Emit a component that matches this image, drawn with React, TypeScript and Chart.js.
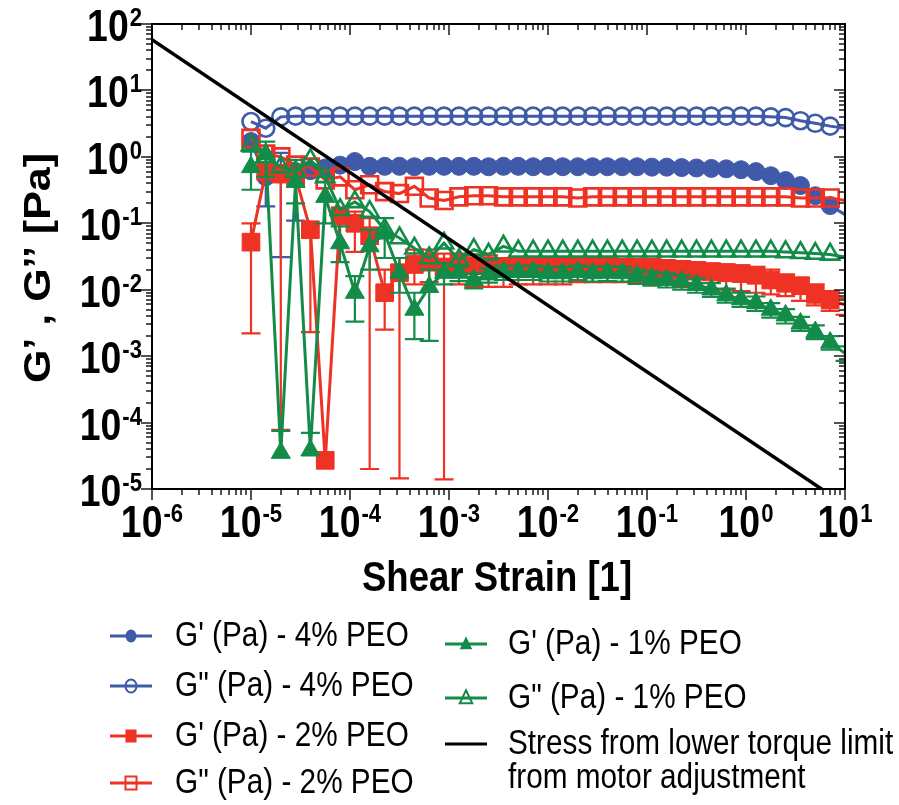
import React, { useEffect, useRef } from 'react';
import { Chart, registerables } from 'chart.js';

Chart.register(...registerables);

// ---------- data ----------
const strain = [
  1.0e-5, 1.41e-5, 2.0e-5, 2.82e-5, 3.98e-5, 5.62e-5, 7.94e-5,
  1.12e-4, 1.58e-4, 2.24e-4, 3.16e-4, 4.47e-4, 6.31e-4, 8.91e-4,
  1.26e-3, 1.78e-3, 2.51e-3, 3.55e-3, 5.01e-3, 7.08e-3,
  1.0e-2, 1.41e-2, 2.0e-2, 2.82e-2, 3.98e-2, 5.62e-2, 7.94e-2,
  0.112, 0.158, 0.224, 0.316, 0.447, 0.631, 0.891,
  1.26, 1.78, 2.51, 3.55, 5.01, 7.08, 10.0,
];

const gPrime4 = [
  1.7, 0.5, 0.55, 0.6, 0.62, 0.68, 0.75,
  0.85, 0.72, 0.72, 0.72, 0.71, 0.72, 0.72,
  0.72, 0.72, 0.71, 0.72, 0.72, 0.71,
  0.72, 0.71, 0.71, 0.71, 0.71, 0.71, 0.71,
  0.70, 0.70, 0.69, 0.68, 0.67, 0.66, 0.64,
  0.60, 0.52, 0.44, 0.37, 0.26, 0.185, 0.135,
];
const gPrime4Low = [
  null, 0.18, 0.031, 0.11, null, null, null,
  null, null, null, null, null, null, null,
  null, null, null, null, null, null,
  null, null, null, null, null, null, null,
  null, null, null, null, null, null, null,
  null, null, null, null, null, null, null,
];
const gPrime4High = [
  null, null, 1.15, null, null, null, null,
  null, null, null, null, null, null, null,
  null, null, null, null, null, null,
  null, null, null, null, null, null, null,
  null, null, null, null, null, null, null,
  null, null, null, null, null, null, null,
];

const gDouble4 = [
  3.4, 2.7, 4.0, 4.1, 4.1, 4.1, 4.1,
  4.1, 4.1, 4.1, 4.1, 4.1, 4.1, 4.1,
  4.1, 4.1, 4.1, 4.1, 4.1, 4.1,
  4.1, 4.1, 4.1, 4.1, 4.1, 4.1, 4.1,
  4.1, 4.1, 4.1, 4.1, 4.1, 4.1, 4.1,
  4.1, 4.0, 3.9, 3.5, 3.2, 2.9, 2.7,
];

const gPrime2 = [
  0.052, 0.6, 0.55, 0.5, 0.08, 2.7e-5, 0.13,
  0.10, 0.065, 0.009, 0.018, 0.024, 0.026, 0.022,
  0.025, 0.023, 0.023, 0.022, 0.022, 0.022,
  0.022, 0.022, 0.022, 0.022, 0.022, 0.021, 0.021,
  0.021, 0.021, 0.020, 0.019, 0.0185, 0.018, 0.0175,
  0.0165, 0.014, 0.0125, 0.0115, 0.0085, 0.0070, 0.0059,
];
const gPrime2Low = [
  0.0022, null, 7.8e-5, null, 0.0023, null, null,
  0.037, 2.0e-5, 0.0025, 1.45e-5, 0.012, 0.013, 1.4e-5,
  0.012, 0.011, 0.011, 0.011, 0.012, 0.012,
  0.012, 0.012, 0.013, 0.013, 0.013, 0.013, 0.013,
  0.012, 0.012, 0.011, 0.011, 0.010, 0.010, 0.0095,
  0.009, 0.0085, 0.008, 0.0068, 0.0058, 0.0048, 0.0042,
];
const gPrime2High = [
  0.10, null, null, null, null, null, null,
  0.15, 0.12, 0.02, 0.03, 0.04, 0.04, 0.035,
  0.035, 0.034, 0.033, 0.03, 0.03, 0.03,
  0.03, 0.03, 0.03, 0.03, 0.03, 0.029, 0.029,
  0.029, 0.028, 0.027, 0.026, 0.025, 0.024, 0.023,
  0.022, 0.02, 0.017, 0.015, 0.012, 0.0095, 0.0075,
];

const gDouble2 = [
  1.9, 1.1, 1.0, 0.75, 0.7, 0.45, 0.5,
  0.32, 0.38, 0.30, 0.28, 0.36, 0.24, 0.22,
  0.25, 0.26, 0.26, 0.25, 0.25, 0.25,
  0.25, 0.25, 0.24, 0.25, 0.25, 0.25, 0.25,
  0.25, 0.25, 0.25, 0.25, 0.25, 0.25, 0.25,
  0.25, 0.25, 0.25, 0.24, 0.24, 0.24, 0.22,
];

const gPrime1 = [
  0.70, 1.1, 3.5e-5, 0.42, 3.8e-5, 0.25, 0.05,
  0.009, 0.045, 0.07, 0.018, 0.005, 0.011, 0.018,
  0.018, 0.014, 0.017, 0.0185, 0.0185, 0.0185,
  0.0177, 0.0177, 0.0185, 0.0177, 0.018, 0.0177, 0.0162,
  0.0149, 0.0141, 0.0133, 0.0118, 0.0101, 0.0083, 0.0072,
  0.0063, 0.0050, 0.0041, 0.0031, 0.0023, 0.0016, 0.0011,
];
const gPrime1Low = [
  0.32, 0.5, null, 0.2, null, 0.1, 0.026,
  0.0033, 0.02, 0.03, 0.009, 0.0018, 0.0017, 0.012,
  0.0135, 0.0105, 0.0128, 0.014, 0.014, 0.014,
  0.0133, 0.0133, 0.014, 0.0133, 0.0135, 0.0133, 0.0122,
  0.0115, 0.0108, 0.010, 0.009, 0.0078, 0.0064, 0.0055,
  0.0048, 0.0038, 0.0031, 0.0024, 0.0018, 0.00125, 0.00085,
];
const gPrime1High = [
  1.2, 1.7, 7.5e-5, 0.9, 7.0e-5, 0.5, 0.09,
  0.016, 0.08, 0.12, 0.03, 0.009, 0.02, 0.025,
  0.0225, 0.0175, 0.021, 0.023, 0.023, 0.023,
  0.022, 0.022, 0.023, 0.022, 0.0225, 0.022, 0.02,
  0.0186, 0.0176, 0.0166, 0.0148, 0.0126, 0.0104, 0.009,
  0.0079, 0.0063, 0.0051, 0.0039, 0.0029, 0.002, 0.0014,
];

const gDouble1 = [
  1.5, 1.0, 0.7, 0.6, 0.9, 0.5, 0.16,
  0.21, 0.15, 0.08, 0.06, 0.042, 0.03, 0.05,
  0.028, 0.040, 0.034, 0.045, 0.038, 0.038,
  0.038, 0.038, 0.038, 0.038, 0.038, 0.038, 0.038,
  0.038, 0.038, 0.038, 0.038, 0.038, 0.038, 0.038,
  0.038, 0.038, 0.037, 0.036, 0.035, 0.034, 0.031,
];

const limitStrain = [1e-6, 10];
const limitModulus = [58, 5.8e-6];

const xTickExponents = [-6, -5, -4, -3, -2, -1, 0, 1];
const yTickExponents = [-5, -4, -3, -2, -1, 0, 1, 2];

const legendLabels = [
  "G' (Pa) - 4% PEO",
  'G" (Pa) - 4% PEO',
  "G' (Pa) - 2% PEO",
  'G" (Pa) - 2% PEO',
  "G' (Pa) - 1% PEO",
  'G" (Pa) - 1% PEO',
  'Stress from lower torque limit',
  'from motor adjustment',
];
const xTitle = 'Shear Strain [1]';
const yTitle = 'G\u2019 , G\u2019\u2019 [Pa]';

// ---------- styles ----------
const BLUE = '#3F5AA8';
const RED = '#EE3224';
const GREEN = '#128C48';
const FONT = "'Liberation Sans', Arial, Helvetica, sans-serif";
const SQUEEZE = 0.85;
const X_MIN = 1e-6, X_MAX = 10, Y_MIN = 1e-5, Y_MAX = 100;

const radiusFor: Record<string, number> = { circle: 9, rect: 12.5, triangle: 11 };

function series(label: string, values: number[], color: string, style: string, filled: boolean, order: number, low?: (number | null)[], high?: (number | null)[]) {
  const r = radiusFor[style] - (filled ? 0 : 0.5);
  return {
    label,
    data: strain.map((x, i) => ({ x, y: values[i] })),
    borderColor: color,
    backgroundColor: filled ? color : 'rgba(255,255,255,0)',
    pointBorderColor: color,
    pointBackgroundColor: filled ? color : 'rgba(255,255,255,0)',
    pointStyle: style,
    pointRadius: (c: any) => (c.raw && c.raw.x >= X_MAX ? 0 : r),
    pointBorderWidth: filled ? 1 : 2.6,
    borderWidth: 3,
    tension: 0,
    fill: false,
    order,
    errLow: low,
    errHigh: high,
    markerStyle: style,
    markerFilled: filled,
  } as any;
}

function textW(ctx: CanvasRenderingContext2D, text: string, font: string, sx = SQUEEZE) {
  ctx.save();
  ctx.font = font;
  const w = ctx.measureText(text).width * sx;
  ctx.restore();
  return w;
}

function squeezedText(ctx: CanvasRenderingContext2D, text: string, x: number, y: number, align: string, font: string, baseline: CanvasTextBaseline = 'alphabetic', sx = SQUEEZE) {
  ctx.save();
  ctx.font = font;
  ctx.textBaseline = baseline;
  const w = ctx.measureText(text).width * sx;
  const left = align === 'left' ? x : align === 'center' ? x - w / 2 : x - w;
  ctx.translate(left, y);
  ctx.scale(sx, 1);
  ctx.textAlign = 'left';
  ctx.fillText(text, 0, 0);
  ctx.restore();
}

function powerLabel(ctx: CanvasRenderingContext2D, exp: number, x: number, baseline: number, align: string) {
  const baseFont = `bold 44px ${FONT}`;
  const expFont = `bold 26px ${FONT}`;
  const es = String(exp);
  const bw = textW(ctx, '10', baseFont);
  const ew = textW(ctx, es, expFont);
  const total = bw + ew + 1;
  const left = align === 'center' ? x - total / 2 : x - total;
  squeezedText(ctx, '10', left, baseline, 'left', baseFont);
  squeezedText(ctx, es, left + bw + 1, baseline - 15, 'left', expFont);
}

function drawMarker(ctx: CanvasRenderingContext2D, style: string, x: number, y: number, r: number, color: string, filled: boolean) {
  ctx.save();
  ctx.fillStyle = color;
  ctx.strokeStyle = color;
  ctx.lineWidth = 2;
  ctx.beginPath();
  const sx = SQUEEZE;
  if (style === 'circle') {
    ctx.ellipse(x, y, r * sx, r, 0, 0, Math.PI * 2);
  } else if (style === 'rect') {
    ctx.rect(x - r * sx, y - r, 2 * r * sx, 2 * r);
  } else {
    ctx.moveTo(x, y - r * 1.1);
    ctx.lineTo(x + r * 1.05 * sx, y + r * 0.75);
    ctx.lineTo(x - r * 1.05 * sx, y + r * 0.75);
  }
  ctx.closePath();
  if (filled) ctx.fill(); else ctx.stroke();
  ctx.restore();
}

const errorBarPlugin = {
  id: 'errorBars',
  beforeDatasetDraw(chart: any, args: any) {
    const ds = chart.data.datasets[args.index];
    if (!ds.errLow && !ds.errHigh) return;
    const { ctx, chartArea: a } = chart;
    const xs = chart.scales.x, ys = chart.scales.y;
    ctx.save();
    ctx.beginPath();
    ctx.rect(a.left, a.top, a.right - a.left, a.bottom - a.top);
    ctx.clip();
    ctx.strokeStyle = ds.borderColor;
    ctx.lineWidth = 2.2;
    const cap = 9.5;
    ds.data.forEach((p: any, i: number) => {
      const px = xs.getPixelForValue(p.x);
      const py = ys.getPixelForValue(p.y);
      const ends = [ds.errLow ? ds.errLow[i] : null, ds.errHigh ? ds.errHigh[i] : null];
      ends.forEach((v: any) => {
        if (v == null) return;
        const ey = ys.getPixelForValue(v);
        ctx.beginPath();
        ctx.moveTo(px, py);
        ctx.lineTo(px, ey);
        ctx.moveTo(px - cap, ey);
        ctx.lineTo(px + cap, ey);
        ctx.stroke();
      });
    });
    ctx.restore();
  },
};

const decorPlugin = {
  id: 'decor',
  afterDraw(chart: any) {
    const { ctx, chartArea: a } = chart;
    const xs = chart.scales.x, ys = chart.scales.y;
    ctx.save();
    ctx.strokeStyle = '#1a1a1a';
    ctx.lineWidth = 1.5;
    const major = 11, minor = 6;
    ctx.beginPath();
    xTickExponents.forEach((e) => {
      for (let m = 1; m <= 9; m++) {
        const v = m * Math.pow(10, e);
        if (v > X_MAX * 1.0001) break;
        const px = Math.round(xs.getPixelForValue(v));
        const len = m === 1 ? major : minor;
        ctx.moveTo(px, a.bottom); ctx.lineTo(px, a.bottom + len);
        ctx.moveTo(px, a.top); ctx.lineTo(px, a.top + len);
      }
    });
    yTickExponents.forEach((e) => {
      for (let m = 1; m <= 9; m++) {
        const v = m * Math.pow(10, e);
        if (v > Y_MAX * 1.0001) break;
        const py = Math.round(ys.getPixelForValue(v));
        const len = m === 1 ? major : minor;
        ctx.moveTo(a.left, py); ctx.lineTo(a.left - len, py);
        ctx.moveTo(a.right, py); ctx.lineTo(a.right - len, py);
      }
    });
    ctx.stroke();
    ctx.lineWidth = 2;
    ctx.strokeStyle = '#000';
    ctx.strokeRect(a.left, a.top, a.right - a.left, a.bottom - a.top);

    ctx.fillStyle = '#000';
    xTickExponents.forEach((e) => {
      powerLabel(ctx, e, xs.getPixelForValue(Math.pow(10, e)), 537, 'center');
    });
    yTickExponents.forEach((e) => {
      powerLabel(ctx, e, 142, ys.getPixelForValue(Math.pow(10, e)) + 17, 'right');
    });

    // axis titles
    squeezedText(ctx, xTitle, 497, 591, 'center', `bold 43px ${FONT}`);
    ctx.save();
    ctx.translate(40, 268);
    ctx.rotate(-Math.PI / 2);
    ctx.scale(1, SQUEEZE);
    ctx.font = `bold 43px ${FONT}`;
    ctx.textAlign = 'center';
    ctx.textBaseline = 'middle';
    ctx.fillText(yTitle, 0, 0);
    ctx.restore();

    // legend
    const legendFont = `35px ${FONT}`;
    const items = [
      { ds: 0, lx: 131, ty: 636, tx: 175 },
      { ds: 1, lx: 131, ty: 686, tx: 175 },
      { ds: 2, lx: 131, ty: 736, tx: 175 },
      { ds: 3, lx: 131, ty: 783, tx: 175 },
      { ds: 4, lx: 466, ty: 644, tx: 508 },
      { ds: 5, lx: 466, ty: 698, tx: 508 },
    ];
    items.forEach((it) => {
      const d = chart.data.datasets[it.ds];
      ctx.save();
      ctx.strokeStyle = d.borderColor;
      ctx.lineWidth = 3;
      ctx.beginPath();
      ctx.moveTo(it.lx - 21, it.ty);
      ctx.lineTo(it.lx + 21, it.ty);
      ctx.stroke();
      ctx.restore();
      drawMarker(ctx, d.markerStyle, it.lx, it.ty, d.markerStyle === 'triangle' ? 7 : 6.5, d.borderColor, d.markerFilled);
      ctx.fillStyle = '#000';
      squeezedText(ctx, legendLabels[it.ds], it.tx, it.ty, 'left', legendFont, 'middle');
    });
    ctx.strokeStyle = '#000';
    ctx.lineWidth = 3;
    ctx.beginPath();
    ctx.moveTo(445, 744);
    ctx.lineTo(487, 744);
    ctx.stroke();
    ctx.fillStyle = '#000';
    squeezedText(ctx, legendLabels[6], 508, 744, 'left', legendFont, 'middle');
    squeezedText(ctx, legendLabels[7], 508, 778, 'left', legendFont, 'middle');
    ctx.restore();
  },
};

export default function App() {
  const ref = useRef<HTMLCanvasElement>(null);
  useEffect(() => {
    const ordered = [
      series(legendLabels[0], gPrime4, BLUE, 'circle', true, 6, gPrime4Low, gPrime4High),
      series(legendLabels[1], gDouble4, BLUE, 'circle', false, 5),
      series(legendLabels[2], gPrime2, RED, 'rect', true, 4, gPrime2Low, gPrime2High),
      series(legendLabels[3], gDouble2, RED, 'rect', false, 3),
      series(legendLabels[4], gPrime1, GREEN, 'triangle', true, 2, gPrime1Low, gPrime1High),
      series(legendLabels[5], gDouble1, GREEN, 'triangle', false, 1),
      {
        label: 'Stress from lower torque limit from motor adjustment',
        data: limitStrain.map((x, i) => ({ x, y: limitModulus[i] })),
        borderColor: '#000',
        backgroundColor: '#000',
        borderWidth: 3.5,
        pointRadius: 0,
        tension: 0,
        fill: false,
        order: 0,
      },
    ];
    const chart = new Chart(ref.current as HTMLCanvasElement, {
      type: 'line',
      data: { datasets: ordered as any },
      options: {
        responsive: false,
        animation: false,
        layout: { padding: { left: 152, top: 24, right: 54, bottom: 316 } },
        plugins: { legend: { display: false }, tooltip: { enabled: false } },
        scales: {
          x: { type: 'logarithmic', min: X_MIN, max: X_MAX, display: false },
          y: { type: 'logarithmic', min: Y_MIN, max: Y_MAX, display: false },
        },
      },
      plugins: [errorBarPlugin, decorPlugin],
    } as any);
    return () => chart.destroy();
  }, []);
  return (
    <div style={{ position: 'absolute', left: 0, top: 0, width: 899, height: 805, background: '#fff' }}>
      <canvas ref={ref} width={899} height={805} style={{ display: 'block', width: 899, height: 805 }} />
    </div>
  );
}
